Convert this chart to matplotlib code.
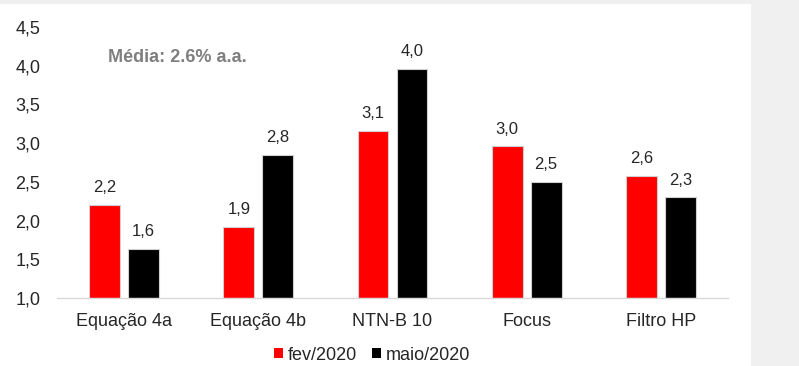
import matplotlib.pyplot as plt
import numpy as np
from matplotlib.patches import Rectangle, Patch

categories = ["Equação 4a", "Equação 4b", "NTN-B 10", "Focus", "Filtro HP"]
fev_2020 = [2.20, 1.92, 3.16, 2.96, 2.58]
maio_2020 = [1.63, 2.85, 3.96, 2.50, 2.30]
fev_labels = ["2,2", "1,9", "3,1", "3,0", "2,6"]
maio_labels = ["1,6", "2,8", "4,0", "2,5", "2,3"]
yticks = [1.0, 1.5, 2.0, 2.5, 3.0, 3.5, 4.0, 4.5]
ytick_labels = ["1,0", "1,5", "2,0", "2,5", "3,0", "3,5", "4,0", "4,5"]

plt.rcParams['font.family'] = ['Liberation Sans', 'DejaVu Sans']

fig = plt.figure(figsize=(7.99, 3.66), dpi=100)
fig.patch.set_facecolor('#f0f0f0')
fig.patches.append(Rectangle((0, 0), 751/799, 1 - 4/366, transform=fig.transFigure,
                             facecolor='white', edgecolor='none', zorder=-1))

ax = fig.add_axes([57/799, 1 - 298/366, (728 - 57)/799, (298 - 27)/366])
ax.set_facecolor('none')
ax.set_zorder(1)

x = np.arange(len(categories))
w = 0.23
off = 0.145
ax.bar(x - off, np.array(fev_2020) - 1, w, bottom=1, color='#ff0000',
       edgecolor='#cfcfcf', linewidth=0.8, label='fev/2020')
ax.bar(x + off, np.array(maio_2020) - 1, w, bottom=1, color='#000000',
       edgecolor='#cfcfcf', linewidth=0.8, label='maio/2020')

for xi, v, t in zip(x - off, fev_2020, fev_labels):
    ax.annotate(t, (xi, v), xytext=(0, 7), textcoords='offset points',
                ha='center', va='bottom', fontsize=12, color='#262626')
for xi, v, t in zip(x + off, maio_2020, maio_labels):
    ax.annotate(t, (xi, v), xytext=(0, 7), textcoords='offset points',
                ha='center', va='bottom', fontsize=12, color='#262626')

ax.set_xlim(-0.5, len(categories) - 0.5)
ax.set_ylim(1.0, 4.5)
ax.set_xticks(x)
ax.set_xticklabels(categories, fontsize=13, color='#262626')
ax.set_yticks(yticks)
ax.set_yticklabels(ytick_labels, fontsize=13, color='#262626')
ax.tick_params(axis='both', length=0)
ax.tick_params(axis='y', pad=12)
ax.tick_params(axis='x', pad=11)
for s in ['top', 'right', 'left']:
    ax.spines[s].set_visible(False)
ax.spines['bottom'].set_color('#d9d9d9')
ax.spines['bottom'].set_linewidth(1)

fig.text(108/799, 1 - 57/366, "Média: 2.6% a.a.", fontsize=13, fontweight='bold',
         color='#7f7f7f', ha='left', va='center')

handles = [Patch(facecolor='#ff0000', edgecolor='none'), Patch(facecolor='#000000', edgecolor='none')]
fig.legend(handles, ['fev/2020', 'maio/2020'], loc='center', bbox_to_anchor=(372/799, 1 - 355/366),
           ncol=2, frameon=False, fontsize=13, handlelength=0.5, handleheight=0.5,
           handletextpad=0.3, columnspacing=0.8, labelcolor='#262626')

fig.savefig('out.png', dpi=100, facecolor=fig.get_facecolor())
